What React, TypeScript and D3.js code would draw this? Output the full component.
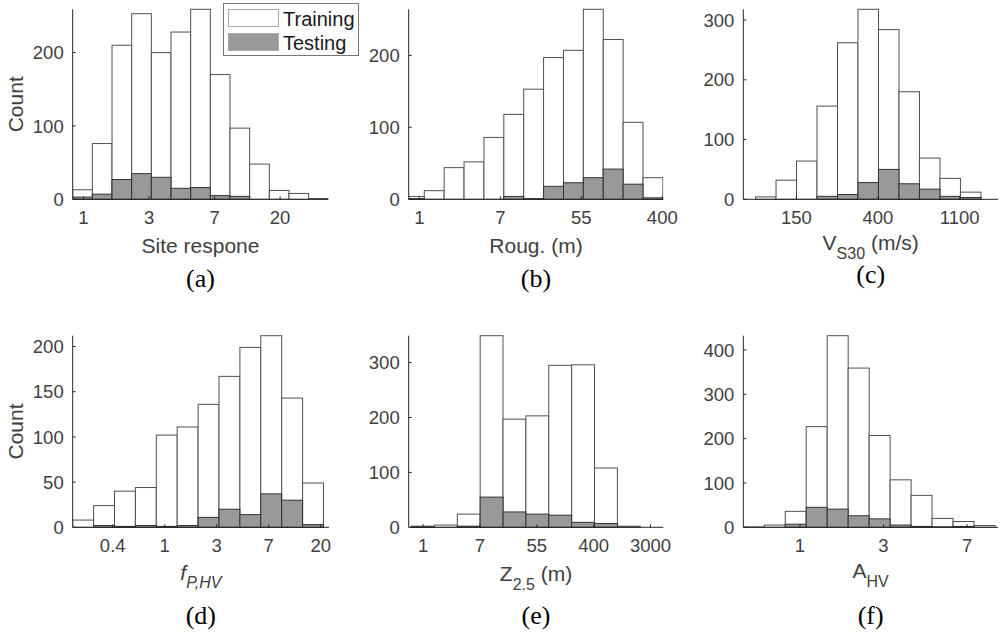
import React from "react";
import * as d3 from "d3";

// ---------- data (x in natural-log units, tick labels are rounded e^x) ----------
const aTicks = [0, 1, 2, 3];
const aTickLabels = ["1", "3", "7", "20"];
const aBinStart = -0.165;
const aBinWidth = 0.3;
const aTrain = [13, 76, 210, 253, 200, 228, 259, 170, 97, 48, 12, 8, 1];
const aTest = [3, 7, 27, 35, 30, 15, 16, 5, 4, 0, 0, 0, 0];
const aXDomain = [-0.165, 3.735];
const aYTicks = [0, 100, 200];

const bTicks = [0, 2, 4, 6];
const bTickLabels = ["1", "7", "55", "400"];
const bBinStart = -0.368;
const bBinWidth = 0.491;
const bTrain = [4, 12, 44, 52, 86, 118, 153, 197, 207, 264, 222, 107, 30];
const bTest = [1, 0, 0, 0, 0, 4, 1, 18, 23, 30, 42, 21, 2];
const bXDomain = [-0.262, 6.025];
const bYTicks = [0, 100, 200];

const cTicks = [5, 6, 7];
const cTickLabels = ["150", "400", "1100"];
const cBinStart = 4.5;
const cBinWidth = 0.251;
const cTrain = [4, 32, 64, 156, 262, 318, 284, 180, 69, 35, 12];
const cTest = [0, 0, 0, 5, 8, 28, 50, 26, 17, 5, 3];
const cXDomain = [4.35, 7.47];
const cYTicks = [0, 100, 200, 300];

const dTicks = [-1, 0, 1, 2, 3];
const dTickLabels = ["0.4", "1", "3", "7", "20"];
const dBinStart = -1.77;
const dBinWidth = 0.402;
const dTrain = [8, 24, 40, 44, 102, 111, 136, 167, 199, 212, 143, 49];
const dTest = [0, 2, 1, 2, 1, 2, 11, 20, 14, 37, 30, 3];
const dXDomain = [-1.77, 3.16];
const dYTicks = [0, 50, 100, 150, 200];

const eTicks = [0, 2, 4, 6, 8];
const eTickLabels = ["1", "7", "55", "400", "3000"];
const eBinStart = -0.41;
const eBinWidth = 0.805;
const eTrain = [2, 4, 24, 349, 197, 203, 295, 296, 108, 2];
const eTest = [1, 0, 2, 55, 28, 24, 22, 9, 7, 0];
const eXDomain = [-0.51, 8.45];
const eYTicks = [0, 100, 200, 300];

const fTicks = [0, 1, 2];
const fTickLabels = ["1", "3", "7"];
const fBinStart = -0.678;
const fBinWidth = 0.251;
const fTrain = [1, 5, 36, 227, 432, 359, 207, 107, 72, 20, 13, 4];
const fTest = [0, 0, 7, 45, 41, 26, 19, 5, 2, 1, 2, 0];
const fXDomain = [-0.678, 2.37];
const fYTicks = [0, 100, 200, 300, 400];

const legendLabels = ["Training", "Testing"];
const panelLetters = ["(a)", "(b)", "(c)", "(d)", "(e)", "(f)"];

// ---------- styling ----------
const SANS = "'Liberation Sans', Arial, Helvetica, sans-serif";
const SERIF = "'Liberation Serif', 'Times New Roman', serif";
const AXIS = "#262626";
const TEXT = "#404040";
const TRAIN_FILL = "#ffffff";
const TRAIN_STROKE = "#505050";
const TEST_FILL = "#999999";
const TEST_STROKE = "#333333";

type PanelDef = {
  ticks: number[];
  tickLabels: string[];
  binStart: number;
  binWidth: number;
  train: number[];
  test: number[];
  xDomain: number[];
  yTicks: number[];
  label: React.ReactNode;
  showCount: boolean;
  box: { left: number; right: number; top: number; bottom: number };
  xlabelY: number;
  letterY: number;
  letter: string;
};

function Panel({ p, idx }: { p: PanelDef; idx: number }) {
  const { left, right, top, bottom } = p.box;
  const x = d3.scaleLinear().domain(p.xDomain).range([left, right]);
  const yMax = d3.max(p.train) as number;
  const y = d3.scaleLinear().domain([0, yMax]).range([bottom, top]);
  const clipId = `clip-${idx}`;
  const cx = (left + right) / 2;
  const bars = (vals: number[], fill: string, stroke: string) =>
    vals.map((v, i) => {
      if (v <= 0) return null;
      const x0 = x(p.binStart + i * p.binWidth);
      const x1 = x(p.binStart + (i + 1) * p.binWidth);
      return (
        <rect
          key={i}
          x={x0}
          y={y(v)}
          width={x1 - x0}
          height={y(0) - y(v)}
          fill={fill}
          stroke={stroke}
          strokeWidth={1}
        />
      );
    });
  return (
    <g>
      <defs>
        <clipPath id={clipId}>
          <rect x={left} y={top - 2} width={right - left} height={bottom - top + 4} />
        </clipPath>
      </defs>
      <g clipPath={`url(#${clipId})`}>
        {bars(p.train, TRAIN_FILL, TRAIN_STROKE)}
        {bars(p.test, TEST_FILL, TEST_STROKE)}
      </g>
      <line x1={left} x2={right} y1={bottom} y2={bottom} stroke={AXIS} strokeWidth={1} />
      <line x1={left} x2={left} y1={top} y2={bottom} stroke={AXIS} strokeWidth={1} />
      {p.ticks.map((t, i) => (
        <g key={"xt" + i}>
          <line x1={x(t)} x2={x(t)} y1={bottom} y2={bottom - 3} stroke={AXIS} strokeWidth={1} />
          <text
            x={x(t)}
            y={p.box.bottom + 25}
            textAnchor="middle"
            fontFamily={SANS}
            fontSize={18.5}
            fill={TEXT}
          >
            {p.tickLabels[i]}
          </text>
        </g>
      ))}
      {p.yTicks.map((t, i) => (
        <g key={"yt" + i}>
          <line x1={left} x2={left + 3} y1={y(t)} y2={y(t)} stroke={AXIS} strokeWidth={1} />
          <text
            x={left - 9}
            y={y(t)}
            dy="0.36em"
            textAnchor="end"
            fontFamily={SANS}
            fontSize={18.5}
            fill={TEXT}
          >
            {t}
          </text>
        </g>
      ))}
      {p.showCount && (
        <text
          transform={`translate(22.7,${(top + bottom) / 2}) rotate(-90)`}
          textAnchor="middle"
          fontFamily={SANS}
          fontSize={21}
          fill={TEXT}
        >
          Count
        </text>
      )}
      <text x={cx} y={p.xlabelY} textAnchor="middle" fontFamily={SANS} fontSize={21} fill={TEXT}>
        {p.label}
      </text>
      <text x={cx} y={p.letterY} textAnchor="middle" fontFamily={SERIF} fontSize={26} fill="#000">
        {p.letter}
      </text>
    </g>
  );
}

export default function App() {
  const topBox = { top: 9.3, bottom: 199.3 };
  const botBox = { top: 335.7, bottom: 527.3 };
  const panels: PanelDef[] = [
    {
      ticks: aTicks, tickLabels: aTickLabels, binStart: aBinStart, binWidth: aBinWidth,
      train: aTrain, test: aTest, xDomain: aXDomain, yTicks: aYTicks,
      label: "Site respone", showCount: true,
      box: { left: 72.7, right: 328.3, ...topBox }, xlabelY: 253, letterY: 287, letter: panelLetters[0],
    },
    {
      ticks: bTicks, tickLabels: bTickLabels, binStart: bBinStart, binWidth: bBinWidth,
      train: bTrain, test: bTest, xDomain: bXDomain, yTicks: bYTicks,
      label: "Roug. (m)", showCount: false,
      box: { left: 408.7, right: 663.3, ...topBox }, xlabelY: 253, letterY: 287, letter: panelLetters[1],
    },
    {
      ticks: cTicks, tickLabels: cTickLabels, binStart: cBinStart, binWidth: cBinWidth,
      train: cTrain, test: cTest, xDomain: cXDomain, yTicks: cYTicks,
      label: (
        <>
          <tspan>V</tspan>
          <tspan dy={9} fontSize={16}>S30</tspan>
          <tspan dy={-9}> (m/s)</tspan>
        </>
      ),
      showCount: false,
      box: { left: 743.3, right: 998, ...topBox }, xlabelY: 250, letterY: 283, letter: panelLetters[2],
    },
    {
      ticks: dTicks, tickLabels: dTickLabels, binStart: dBinStart, binWidth: dBinWidth,
      train: dTrain, test: dTest, xDomain: dXDomain, yTicks: dYTicks,
      label: (
        <>
          <tspan fontStyle="italic">f</tspan>
          <tspan dy={8} fontSize={16} fontStyle="italic">P,HV</tspan>
        </>
      ),
      showCount: true,
      box: { left: 72.7, right: 329, ...botBox }, xlabelY: 580, letterY: 624, letter: panelLetters[3],
    },
    {
      ticks: eTicks, tickLabels: eTickLabels, binStart: eBinStart, binWidth: eBinWidth,
      train: eTrain, test: eTest, xDomain: eXDomain, yTicks: eYTicks,
      label: (
        <>
          <tspan>Z</tspan>
          <tspan dy={9} fontSize={16}>2.5</tspan>
          <tspan dy={-9}> (m)</tspan>
        </>
      ),
      showCount: false,
      box: { left: 408.7, right: 663.3, ...botBox }, xlabelY: 581, letterY: 624, letter: panelLetters[4],
    },
    {
      ticks: fTicks, tickLabels: fTickLabels, binStart: fBinStart, binWidth: fBinWidth,
      train: fTrain, test: fTest, xDomain: fXDomain, yTicks: fYTicks,
      label: (
        <>
          <tspan>A</tspan>
          <tspan dy={9} fontSize={16}>HV</tspan>
        </>
      ),
      showCount: false,
      box: { left: 743.3, right: 998, ...botBox }, xlabelY: 578, letterY: 624, letter: panelLetters[5],
    },
  ];

  return (
    <svg
      width={1001}
      height={635}
      style={{ position: "absolute", left: 0, top: 0, background: "#fff" }}
    >
      <rect x={0} y={0} width={1001} height={635} fill="#fff" />
      {panels.map((p, i) => (
        <Panel key={i} p={p} idx={i} />
      ))}
      <g>
        <rect x={223.5} y={3.5} width={135} height={52} fill="#fff" stroke="#777" strokeWidth={1} />
        <rect x={228.5} y={9.5} width={50} height={17} fill={TRAIN_FILL} stroke="#aaa" strokeWidth={1} />
        <rect x={228.5} y={33.5} width={50} height={17} fill={TEST_FILL} stroke="#aaa" strokeWidth={1} />
        <text x={283} y={25.5} fontFamily={SANS} fontSize={20} fill="#1a1a1a">{legendLabels[0]}</text>
        <text x={283} y={49.5} fontFamily={SANS} fontSize={20} fill="#1a1a1a">{legendLabels[1]}</text>
      </g>
    </svg>
  );
}
